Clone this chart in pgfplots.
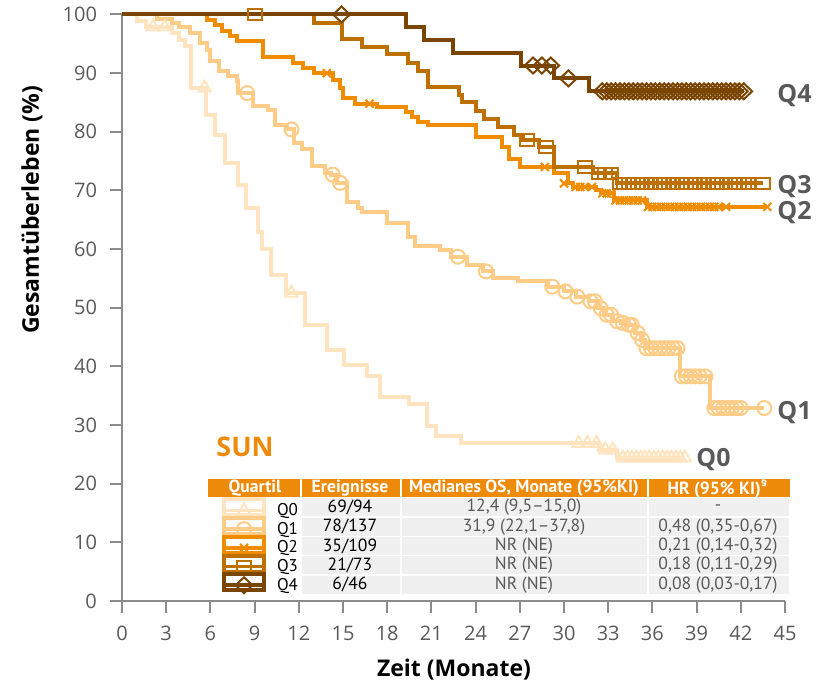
\documentclass[border=0pt]{standalone}
\usepackage{fontspec}
\setmainfont{Open Sans}
\newfontfamily\tablefont{PT Sans}
\usepackage{pgfplots}
\pgfplotsset{compat=1.18}
\usetikzlibrary{calc}

\definecolor{cQ0}{HTML}{FFE4BF}
\definecolor{cQ1}{HTML}{FFCC88}
\definecolor{cQ2}{HTML}{F08C00}
\definecolor{cQ3}{HTML}{BD7000}
\definecolor{cQ4}{HTML}{7A4500}
\definecolor{hdr}{HTML}{EE8A0A}
\definecolor{txtgray}{HTML}{595959}
\definecolor{cellgray}{HTML}{F0F0F0}
\definecolor{axgray}{HTML}{8C8C8C}

\pgfplotsset{
  kmline/.style={line width=2pt, const plot, mark=none},
  kmmark/.style={forget plot, only marks, line width=1pt},
  q0m/.style={mark=triangle, mark size=3.6pt},
  q1m/.style={mark=o, mark size=3.5pt},
  q2m/.style={mark=x, mark size=2.8pt},
  q3m/.style={mark=square, mark size=3.5pt, mark options={yscale=0.8}},
  q4m/.style={mark=diamond, mark size=4pt, mark options={xscale=1.4}},
  legimg/.style 2 args={legend image code/.code={
    \useasboundingbox (0pt,-2pt) rectangle (20pt,6pt);
    \draw[#1, line width=1.8pt] (0pt,0.5pt) -- (20pt,0.5pt);
    \draw[#1, line width=1pt] plot[#2] coordinates {(10pt,0.5pt)};
  }},
}

\begin{document}
\begin{tikzpicture}
\begin{axis}[
  scale only axis, width=331.5pt, height=293.25pt,
  xmin=0, xmax=45, ymin=0, ymax=100,
  axis x line=bottom, axis y line=left,
  axis line style={-, draw=axgray, line width=1pt},
  xtick={0,3,...,45}, ytick={0,10,...,100},
  tick align=outside, major tick length=6pt,
  tick style={draw=axgray, line width=1pt},
  ticklabel style={font=\fontsize{10}{12}\selectfont, text=txtgray},
  /pgf/number format/assume math mode=true,
  yticklabel style={xshift=-3pt},
  xticklabel style={yshift=-3pt},
  clip=false,
  legend cell align=left,
  legend style={at={(axis cs:6.79,17.66)}, anchor=north west, draw=none, fill=none,
    font=\tablefont\fontsize{8.5}{9}\selectfont, row sep=-1.65pt, column sep=5.5pt,
    inner sep=0pt, outer sep=0pt,
    nodes={inner sep=0pt, text height=6pt, text depth=2pt}},
]
\coordinate (O) at (rel axis cs:0,0);

% Q0
\addplot[kmline, cQ0, legimg={cQ0}{mark=triangle, mark size=3.6pt}] coordinates {
(0,100)(1.0,98.9)(1.6,97.9)(3.4,96.8)(3.9,95.7)(4.3,94.7)(4.7,87.5)(5.7,82.9)(6.3,79.5)(7.0,74.7)(7.9,71.0)(8.4,67.0)(9.2,62.9)(9.5,60.1)(10.1,55.6)(11.1,52.5)(12.4,47.1)(13.9,42.8)(15.1,40.3)(16.6,38.3)(17.5,34.7)(19.5,33.6)(20.7,29.9)(21.3,28.2)(23.0,26.9)(32.4,25.8)(33.6,24.4)(38.2,24.4)};
\addlegendentry{Q0}
% Q1
\addplot[kmline, cQ1, legimg={cQ1}{mark=o, mark size=3.5pt}] coordinates {
(0,100)(2.4,99.3)(3.4,98.5)(3.9,97.8)(4.6,96.9)(5.3,95.2)(5.8,94.0)(6.0,92.0)(6.6,90.3)(7.2,89.5)(7.8,88.6)(7.9,86.6)(8.9,84.4)(9.9,83.8)(10.4,81.2)(11.2,80.4)(11.65,78.1)(12.2,77.0)(12.9,74.1)(13.8,73.0)(14.2,72.7)(14.6,71.3)(15.3,68.1)(16.0,67.0)(16.3,66.4)(18.0,64.4)(19.4,62.1)(19.9,60.5)(21.6,59.8)(22.3,58.7)(23.4,57.3)(24.5,56.2)(25.2,55.1)(26.85,54.5)(28.9,53.6)(30.0,52.8)(30.8,51.9)(31.7,51.1)(32.3,49.9)(32.7,48.8)(33.3,47.7)(33.9,47.4)(34.3,47.1)(34.8,45.7)(35.2,44.5)(35.5,43.1)(37.9,38.3)(39.9,32.9)(43.6,32.9)};
\addlegendentry{Q1}
% Q2
\addplot[kmline, cQ2, legimg={cQ2}{mark=x, mark size=2.8pt}] coordinates {
(0,100)(5.8,99.1)(6.3,98.2)(6.8,97.2)(7.3,96.3)(7.8,95.4)(9.6,92.7)(11.6,91.8)(12.3,90.9)(13.0,90.0)(14.35,88.8)(14.8,87.4)(15.0,85.7)(15.8,84.8)(17.3,84.3)(19.3,83.4)(19.7,82.6)(20.1,81.7)(20.8,81.1)(24.0,79.1)(25.8,77.4)(26.3,75.4)(27.0,74.0)(29.3,72.9)(30.3,71.2)(30.6,70.6)(32.2,70.1)(32.5,69.5)(33.4,68.3)(35.6,67.2)(43.8,67.2)};
\addlegendentry{Q2}
% Q3
\addplot[kmline, cQ3, legimg={cQ3}{mark=square, mark size=3.5pt, mark options={yscale=0.8}}] coordinates {
(0,100)(13.0,98.6)(14.9,95.9)(16.3,94.5)(18.0,93.2)(19.4,91.8)(20.1,90.4)(20.8,87.7)(22.9,86.3)(23.1,85.0)(24.0,83.6)(24.6,82.2)(25.5,80.8)(26.6,79.5)(27.2,78.6)(28.3,77.4)(29.3,74.0)(32.0,72.9)(33.6,71.2)(43.5,71.2)};
\addlegendentry{Q3}
% Q4
\addplot[kmline, cQ4, legimg={cQ4}{mark=diamond, mark size=4pt, mark options={xscale=1.4}}] coordinates {
(0,100)(19.3,97.8)(20.5,95.7)(22.5,93.5)(27.1,91.3)(29.3,89.1)(31.7,86.9)(42.2,86.9)};
\addlegendentry{Q4}

% censored observations
\addplot[kmmark, cQ0, q0m] coordinates {
(2.1,97.9)(2.9,97.9)(5.6,87.5)(11.5,52.5)(31.0,26.9)(31.6,26.9)(32.2,26.9)(32.8,25.8)(33.3,25.8)(34.0,24.4)(34.3,24.4)(34.6,24.4)(34.9,24.4)(35.2,24.4)(35.5,24.4)(35.8,24.4)(36.1,24.4)(36.4,24.4)(36.7,24.4)(37.0,24.4)(37.3,24.4)(37.6,24.4)(37.9,24.4)(38.2,24.4)};
\addplot[kmmark, cQ1, q1m] coordinates {
(8.5,86.6)(11.5,80.4)(14.3,72.7)(14.8,71.3)(22.8,58.7)(24.7,56.2)(29.2,53.6)(30.1,52.8)(30.9,51.9)(31.8,51.1)(32.1,51.1)(32.5,49.9)(32.9,48.8)(33.2,48.8)(33.6,47.7)(34.0,47.4)(34.4,47.1)(34.6,47.1)(35.0,45.7)(35.3,44.5)(35.6,43.1)(35.9,43.1)(36.2,43.1)(36.5,43.1)(36.8,43.1)(37.1,43.1)(37.4,43.1)(37.7,43.1)(38.0,38.3)(38.3,38.3)(38.6,38.3)(38.9,38.3)(39.2,38.3)(39.6,38.3)(40.2,32.9)(40.5,32.9)(40.8,32.9)(41.1,32.9)(41.4,32.9)(41.7,32.9)(42.0,32.9)(43.6,32.9)};
\addplot[kmmark, cQ2, q2m] coordinates {
(13.9,90.0)(16.8,84.8)(28.7,74.0)(30.0,71.2)(30.8,70.6)(31.1,70.6)(31.4,70.6)(31.9,70.6)(32.6,69.5)(32.9,69.5)(33.2,69.5)(33.5,68.3)(33.8,68.3)(34.1,68.3)(34.4,68.3)(34.7,68.3)(35.0,68.3)(35.3,68.3)(35.7,67.2)(36.0,67.2)(36.3,67.2)(36.6,67.2)(36.9,67.2)(37.2,67.2)(37.5,67.2)(37.8,67.2)(38.1,67.2)(38.4,67.2)(38.7,67.2)(39.0,67.2)(39.3,67.2)(39.6,67.2)(39.9,67.2)(40.2,67.2)(40.5,67.2)(41.0,67.2)(43.8,67.2)};
\addplot[kmmark, cQ3, q3m] coordinates {
(9.0,100)(27.5,78.6)(28.8,77.4)(31.4,74.0)(32.4,72.9)(32.8,72.9)(33.2,72.9)(33.8,71.2)(34.1,71.2)(34.4,71.2)(34.7,71.2)(35.0,71.2)(35.3,71.2)(35.6,71.2)(35.9,71.2)(36.2,71.2)(36.5,71.2)(36.8,71.2)(37.1,71.2)(37.4,71.2)(37.7,71.2)(38.0,71.2)(38.3,71.2)(38.6,71.2)(38.9,71.2)(39.2,71.2)(39.5,71.2)(39.8,71.2)(40.1,71.2)(40.4,71.2)(40.7,71.2)(41.3,71.2)(41.6,71.2)(41.9,71.2)(42.2,71.2)(42.5,71.2)(43.5,71.2)};
\addplot[kmmark, cQ4, q4m] coordinates {
(14.9,100)(27.9,91.3)(28.5,91.3)(29.1,91.3)(30.3,89.1)(32.6,86.9)(32.9,86.9)(33.2,86.9)(33.5,86.9)(33.8,86.9)(34.1,86.9)(34.4,86.9)(34.7,86.9)(35.0,86.9)(35.3,86.9)(35.6,86.9)(35.9,86.9)(36.2,86.9)(36.5,86.9)(36.8,86.9)(37.1,86.9)(37.4,86.9)(37.7,86.9)(38.0,86.9)(38.3,86.9)(38.6,86.9)(38.9,86.9)(39.2,86.9)(39.5,86.9)(39.8,86.9)(40.1,86.9)(40.4,86.9)(40.7,86.9)(41.0,86.9)(41.3,86.9)(41.6,86.9)(41.9,86.9)(42.2,86.9)};
\end{axis}

% annotations and table, in pixel units of the reference
\begin{scope}[shift={($(O)+(-61pt,300.5pt)$)}, x=0.5pt, y=-0.5pt]
  % header
  \fill[hdr] (208,479) rectangle (790,497);
  \draw[white, line width=0.8pt] (301,479)--(301,497) (401,479)--(401,497) (648,479)--(648,497);
  \begin{scope}[every node/.style={inner sep=0pt, text=white, font=\tablefont\bfseries\fontsize{8.8}{9}\selectfont}]
    \node at (255,488) {Quartil};
    \node at (350,488) {Ereignisse};
    \node at (524,488) {Medianes OS, Monate (95\%KI)};
    \node at (718,488) {HR (95\% KI)\textsuperscript{§}};
  \end{scope}
  % gray cells
  \foreach \yc in {507.5,526.8,546.1,565.4,584.7} {
    \fill[cellgray] (302,\yc-9) rectangle (400,\yc+9);
    \fill[cellgray] (402,\yc-9) rectangle (647,\yc+9);
    \fill[cellgray] (649,\yc-9) rectangle (789,\yc+9);
  }
  \begin{scope}[every node/.style={inner sep=0pt, font=\tablefont\fontsize{8.8}{9}\selectfont}]
    \node[text=black] at (350,507.5) {69/94};
    \node[text=black] at (350,526.8) {78/137};
    \node[text=black] at (350,546.1) {35/109};
    \node[text=black] at (350,565.4) {21/73};
    \node[text=black] at (350,584.7) {6/46};
    \node[text=txtgray] at (524,507.5) {12,4 (9,5–15,0)};
    \node[text=txtgray] at (524,526.8) {31,9 (22,1–37,8)};
    \node[text=txtgray] at (524,546.1) {NR (NE)};
    \node[text=txtgray] at (524,565.4) {NR (NE)};
    \node[text=txtgray] at (524,584.7) {NR (NE)};
    \node[text=txtgray] at (718,507.5) {-};
    \node[text=txtgray] at (718,526.8) {0,48 (0,35-0,67)};
    \node[text=txtgray] at (718,546.1) {0,21 (0,14-0,32)};
    \node[text=txtgray] at (718,565.4) {0,18 (0,11-0,29)};
    \node[text=txtgray] at (718,584.7) {0,08 (0,03-0,17)};
  \end{scope}
  % curve labels
  \begin{scope}[every node/.style={inner sep=0pt, anchor=west, text=txtgray, font=\bfseries\fontsize{12.5}{14}\selectfont}]
    \node at (777,96) {Q4};
    \node at (777,187) {Q3};
    \node at (777,213) {Q2};
    \node at (777,413) {Q1};
    \node at (696,460) {Q0};
  \end{scope}
  \node[inner sep=0pt, text=hdr, font=\bfseries\fontsize{13.5}{15}\selectfont] at (245,447) {SUN};
  % axis titles
  \node[inner sep=0pt, rotate=90, font=\bfseries\fontsize{11.5}{13}\selectfont] at (32,210) {Gesamtüberleben (\%)};
  \node[inner sep=0pt, font=\bfseries\fontsize{11.5}{13}\selectfont] at (454,670) {Zeit (Monate)};
\end{scope}

\pgfresetboundingbox
\path[use as bounding box] ($(O)+(-61pt,-43pt)$) rectangle ($(O)+(347pt,300.5pt)$);
\end{tikzpicture}
\end{document}
